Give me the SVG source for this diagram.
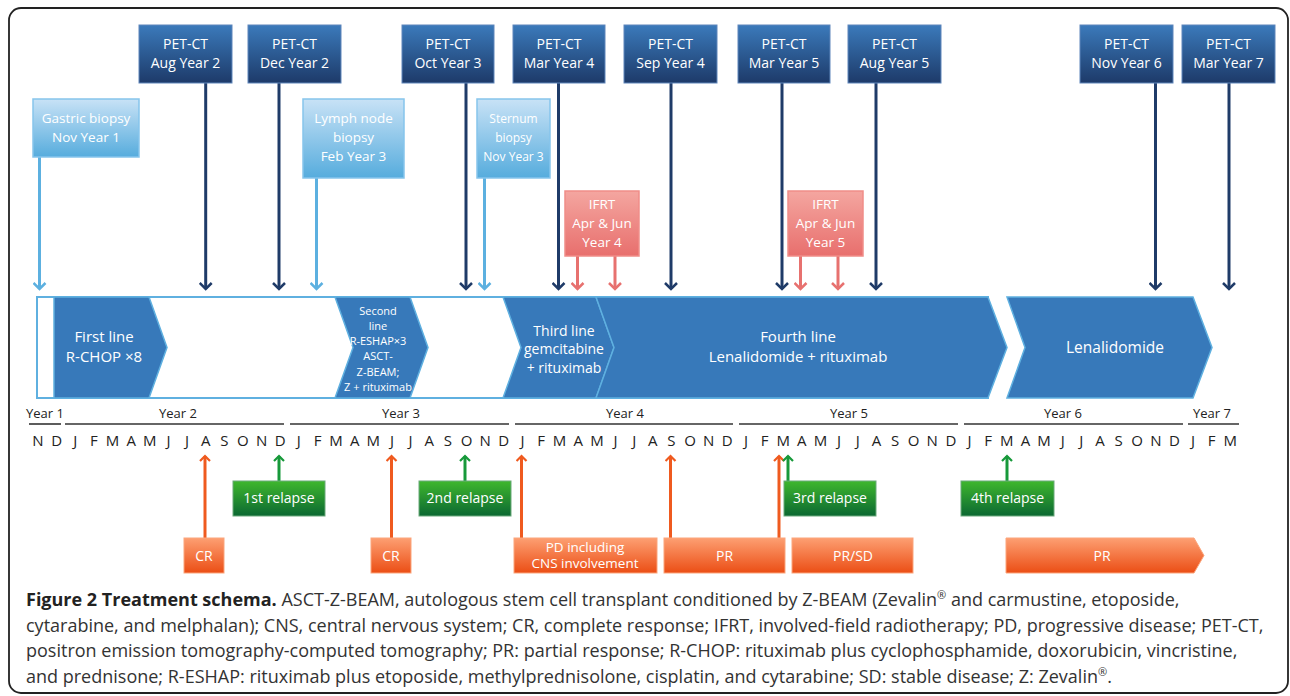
<svg xmlns="http://www.w3.org/2000/svg" width="1290" height="696" viewBox="0 0 1290 696">
<defs>
<linearGradient id="gDark" x1="0" y1="0" x2="0" y2="1"><stop offset="0" stop-color="#3b7abb"/><stop offset="1" stop-color="#1d3a69"/></linearGradient>
<linearGradient id="gLight" x1="0" y1="0" x2="0" y2="1"><stop offset="0" stop-color="#c8e2f6"/><stop offset="1" stop-color="#56acdd"/></linearGradient>
<linearGradient id="gPink" x1="0" y1="0" x2="0" y2="1"><stop offset="0" stop-color="#f4a6a0"/><stop offset="1" stop-color="#e86f6d"/></linearGradient>
<linearGradient id="gOrange" x1="0" y1="0" x2="0" y2="1"><stop offset="0" stop-color="#fd9f72"/><stop offset="1" stop-color="#eb4e15"/></linearGradient>
<linearGradient id="gGreen" x1="0" y1="0" x2="0" y2="1"><stop offset="0" stop-color="#3fb72d"/><stop offset="1" stop-color="#0b6832"/></linearGradient>
<marker id="mDark" viewBox="0 0 14 14" refX="7" refY="7" markerWidth="14" markerHeight="14" orient="auto" markerUnits="userSpaceOnUse"><path d="M1,1 L7,7 L1,13" fill="none" stroke="#1f3b68" stroke-width="2.5"/></marker>
<marker id="mLight" viewBox="0 0 14 14" refX="7" refY="7" markerWidth="14" markerHeight="14" orient="auto" markerUnits="userSpaceOnUse"><path d="M1,1 L7,7 L1,13" fill="none" stroke="#5cb0e0" stroke-width="2.5"/></marker>
<marker id="mPink" viewBox="0 0 14 14" refX="7" refY="7" markerWidth="14" markerHeight="14" orient="auto" markerUnits="userSpaceOnUse"><path d="M1,1 L7,7 L1,13" fill="none" stroke="#e7716f" stroke-width="2.5"/></marker>
<marker id="mOrange" viewBox="0 0 12 12" refX="7" refY="6" markerWidth="12" markerHeight="12" orient="auto" markerUnits="userSpaceOnUse"><path d="M2,1 L7,6 L2,11" fill="none" stroke="#ef5a1f" stroke-width="2.2"/></marker>
<marker id="mGreen" viewBox="0 0 12 12" refX="7" refY="6" markerWidth="12" markerHeight="12" orient="auto" markerUnits="userSpaceOnUse"><path d="M2,1 L7,6 L2,11" fill="none" stroke="#17993a" stroke-width="2.2"/></marker>
<style>
text{font-family:"Open Sans","Noto Sans","Liberation Sans",sans-serif;}
.w{fill:#ffffff;text-anchor:middle;}
.pet{fill:url(#gDark);stroke:#5f86bb;stroke-width:1;}
.bio{fill:url(#gLight);stroke:#86c5ec;stroke-width:1.5;}
.ifrt{fill:url(#gPink);stroke:#f08d88;stroke-width:1.5;}
.resp{fill:url(#gOrange);stroke:#fba57c;stroke-width:1;}
.rel{fill:url(#gGreen);stroke:#6aa97a;stroke-width:1;}
.chev{fill:#3779ba;stroke:#5fb0e0;stroke-width:1.5;}
.lnDark{stroke:#1f3b68;stroke-width:3;fill:none;marker-end:url(#mDark);}
.lnLight{stroke:#5cb0e0;stroke-width:3;fill:none;marker-end:url(#mLight);}
.lnPink{stroke:#e7716f;stroke-width:3;fill:none;marker-end:url(#mPink);}
.lnOrange{stroke:#ef5a1f;stroke-width:3;fill:none;marker-end:url(#mOrange);}
.lnGreen{stroke:#17993a;stroke-width:3;fill:none;marker-end:url(#mGreen);}
.mo{font-size:15px;fill:#222;text-anchor:middle;}
.yr{font-size:13px;fill:#222;text-anchor:middle;}
.yl{stroke:#333;stroke-width:1.6;}
.t14{font-size:14px;}
.cap{font-size:18px;fill:#333;}
.reg{font-size:11px;}
</style>
</defs>
<rect x="9" y="8" width="1279" height="685" rx="12" fill="#ffffff" stroke="#222" stroke-width="1.8"/>

<g id="connectors">
<line class="lnDark" x1="205.7" y1="83" x2="205.7" y2="289"/>
<line class="lnDark" x1="279" y1="83" x2="279" y2="289"/>
<line class="lnDark" x1="466" y1="83" x2="466" y2="289"/>
<line class="lnDark" x1="558.5" y1="83" x2="558.5" y2="289"/>
<line class="lnDark" x1="671" y1="83" x2="671" y2="289"/>
<line class="lnDark" x1="782" y1="83" x2="782" y2="289"/>
<line class="lnDark" x1="876" y1="83" x2="876" y2="289"/>
<line class="lnDark" x1="1155.5" y1="83" x2="1155.5" y2="289"/>
<line class="lnDark" x1="1229" y1="83" x2="1229" y2="289"/>
<line class="lnLight" x1="39.5" y1="157" x2="39.5" y2="289"/>
<line class="lnLight" x1="316.5" y1="178" x2="316.5" y2="289"/>
<line class="lnLight" x1="484.5" y1="178" x2="484.5" y2="289"/>
<line class="lnPink" x1="577.5" y1="256" x2="577.5" y2="289"/>
<line class="lnPink" x1="615" y1="256" x2="615" y2="289"/>
<line class="lnPink" x1="800.5" y1="256" x2="800.5" y2="289"/>
<line class="lnPink" x1="838" y1="256" x2="838" y2="289"/>
<line class="lnOrange" x1="205" y1="538" x2="205" y2="456"/>
<line class="lnOrange" x1="391.5" y1="538" x2="391.5" y2="456"/>
<line class="lnOrange" x1="521.5" y1="538" x2="521.5" y2="456"/>
<line class="lnOrange" x1="670.5" y1="538" x2="670.5" y2="456"/>
<line class="lnOrange" x1="779" y1="538" x2="779" y2="456"/>
<line class="lnGreen" x1="279" y1="481" x2="279" y2="456"/>
<line class="lnGreen" x1="465" y1="481" x2="465" y2="456"/>
<line class="lnGreen" x1="788" y1="481" x2="788" y2="456"/>
<line class="lnGreen" x1="1007" y1="481" x2="1007" y2="456"/>
</g>

<g id="pet-aug-y2"><rect class="pet" x="139" y="25" width="93" height="58"/><text class="w t14" x="185.5" y="49">PET-CT</text><text class="w t14" x="185.5" y="68">Aug Year 2</text></g>
<g id="pet-dec-y2"><rect class="pet" x="248" y="25" width="93" height="58"/><text class="w t14" x="294.5" y="49">PET-CT</text><text class="w t14" x="294.5" y="68">Dec Year 2</text></g>
<g id="pet-oct-y3"><rect class="pet" x="402" y="25" width="92" height="58"/><text class="w t14" x="448" y="49">PET-CT</text><text class="w t14" x="448" y="68">Oct Year 3</text></g>
<g id="pet-mar-y4"><rect class="pet" x="513" y="25" width="92" height="58"/><text class="w t14" x="559" y="49">PET-CT</text><text class="w t14" x="559" y="68">Mar Year 4</text></g>
<g id="pet-sep-y4"><rect class="pet" x="624" y="25" width="93" height="58"/><text class="w t14" x="670.5" y="49">PET-CT</text><text class="w t14" x="670.5" y="68">Sep Year 4</text></g>
<g id="pet-mar-y5"><rect class="pet" x="738" y="25" width="92" height="58"/><text class="w t14" x="784" y="49">PET-CT</text><text class="w t14" x="784" y="68">Mar Year 5</text></g>
<g id="pet-aug-y5"><rect class="pet" x="848" y="25" width="93" height="58"/><text class="w t14" x="894.5" y="49">PET-CT</text><text class="w t14" x="894.5" y="68">Aug Year 5</text></g>
<g id="pet-nov-y6"><rect class="pet" x="1080" y="25" width="93" height="58"/><text class="w t14" x="1126.5" y="49">PET-CT</text><text class="w t14" x="1126.5" y="68">Nov Year 6</text></g>
<g id="pet-mar-y7"><rect class="pet" x="1182" y="25" width="93" height="58"/><text class="w t14" x="1228.5" y="49">PET-CT</text><text class="w t14" x="1228.5" y="68">Mar Year 7</text></g>

<g id="gastric-biopsy"><rect class="bio" x="33" y="99" width="106" height="58"/><text class="w" font-size="13.5" x="86" y="123">Gastric biopsy</text><text class="w" font-size="13.5" x="86" y="142">Nov Year 1</text></g>
<g id="lymph-node-biopsy"><rect class="bio" x="303" y="99" width="101" height="79"/><text class="w" font-size="13.5" x="353.5" y="123">Lymph node</text><text class="w" font-size="13.5" x="353.5" y="142">biopsy</text><text class="w" font-size="13.5" x="353.5" y="161">Feb Year 3</text></g>
<g id="sternum-biopsy"><rect class="bio" x="477" y="99" width="73" height="79"/><text class="w" font-size="12" x="513.5" y="123">Sternum</text><text class="w" font-size="12" x="513.5" y="142">biopsy</text><text class="w" font-size="12" x="513.5" y="161">Nov Year 3</text></g>

<g id="ifrt-y4"><rect class="ifrt" x="565" y="191" width="74" height="65"/><text class="w" font-size="13.5" x="602" y="209">IFRT</text><text class="w" font-size="13.5" x="602" y="228">Apr &amp; Jun</text><text class="w" font-size="13.5" x="602" y="247">Year 4</text></g>
<g id="ifrt-y5"><rect class="ifrt" x="788" y="191" width="75" height="65"/><text class="w" font-size="13.5" x="825.5" y="209">IFRT</text><text class="w" font-size="13.5" x="825.5" y="228">Apr &amp; Jun</text><text class="w" font-size="13.5" x="825.5" y="247">Year 5</text></g>

<g id="treatment-band">
<rect x="37" y="297" width="951" height="101" fill="#ffffff" stroke="#5fb0e0" stroke-width="2"/>
<g id="first-line"><path class="chev" d="M54,297 L149,297 L167,347.5 L149,398 L54,398 Z"/><text class="w" font-size="15" x="104" y="342">First line</text><text class="w" font-size="15" x="104" y="362">R-CHOP ×8</text></g>
<g id="second-line"><path class="chev" d="M335,297 L410,297 L428,347.5 L410,398 L335,398 L353,347.5 Z"/>
<text class="w" font-size="11" x="378" y="315">Second</text><text class="w" font-size="11" x="378" y="330">line</text><text class="w" font-size="11" x="378" y="345">R-ESHAP×3</text><text class="w" font-size="11" x="378" y="360">ASCT-</text><text class="w" font-size="11" x="378" y="376">Z-BEAM;</text><text class="w" font-size="11" x="378" y="391">Z + rituximab</text></g>
<g id="third-line"><path class="chev" d="M503,297 L596,297 L614,347.5 L596,398 L503,398 L521,347.5 Z"/><text class="w" font-size="14" x="564" y="336">Third line</text><text class="w" font-size="14" x="564" y="354">gemcitabine</text><text class="w" font-size="14" x="564" y="373">+ rituximab</text></g>
<g id="fourth-line"><path class="chev" d="M596,297 L988,297 L1007,347.5 L988,398 L596,398 L614,347.5 Z"/><text class="w" font-size="15" x="798" y="342">Fourth line</text><text class="w" font-size="15" x="798" y="362">Lenalidomide + rituximab</text></g>
<g id="lenalidomide"><path class="chev" d="M1007,297 L1193,297 L1212,347.5 L1193,398 L1007,398 L1025,347.5 Z"/><text class="w" font-size="15.5" x="1115" y="353">Lenalidomide</text></g>
</g>

<g id="timeline">
<text class="yr" x="45" y="418">Year 1</text><line class="yl" x1="29" y1="424" x2="61" y2="424"/>
<text class="yr" x="178" y="418">Year 2</text><line class="yl" x1="65" y1="424" x2="284" y2="424"/>
<text class="yr" x="401" y="418">Year 3</text><line class="yl" x1="290" y1="424" x2="509" y2="424"/>
<text class="yr" x="625" y="418">Year 4</text><line class="yl" x1="515" y1="424" x2="733" y2="424"/>
<text class="yr" x="849" y="418">Year 5</text><line class="yl" x1="739" y1="424" x2="958" y2="424"/>
<text class="yr" x="1063" y="418">Year 6</text><line class="yl" x1="964" y1="424" x2="1183" y2="424"/>
<text class="yr" x="1212" y="418">Year 7</text><line class="yl" x1="1188" y1="424" x2="1239" y2="424"/>
<text class="mo" x="38" y="446">N</text><text class="mo" x="56.6" y="446">D</text>
<text class="mo" x="75.3" y="446">J</text><text class="mo" x="93.9" y="446">F</text><text class="mo" x="112.5" y="446">M</text><text class="mo" x="131.2" y="446">A</text><text class="mo" x="149.8" y="446">M</text><text class="mo" x="168.4" y="446">J</text><text class="mo" x="187" y="446">J</text><text class="mo" x="205.7" y="446">A</text><text class="mo" x="224.3" y="446">S</text><text class="mo" x="242.9" y="446">O</text><text class="mo" x="261.6" y="446">N</text><text class="mo" x="280.2" y="446">D</text>
<text class="mo" x="298.8" y="446">J</text><text class="mo" x="317.5" y="446">F</text><text class="mo" x="336.1" y="446">M</text><text class="mo" x="354.7" y="446">A</text><text class="mo" x="373.3" y="446">M</text><text class="mo" x="392" y="446">J</text><text class="mo" x="410.6" y="446">J</text><text class="mo" x="429.2" y="446">A</text><text class="mo" x="447.9" y="446">S</text><text class="mo" x="466.5" y="446">O</text><text class="mo" x="485.1" y="446">N</text><text class="mo" x="503.8" y="446">D</text>
<text class="mo" x="522.4" y="446">J</text><text class="mo" x="541" y="446">F</text><text class="mo" x="559.6" y="446">M</text><text class="mo" x="578.3" y="446">A</text><text class="mo" x="596.9" y="446">M</text><text class="mo" x="615.5" y="446">J</text><text class="mo" x="634.2" y="446">J</text><text class="mo" x="652.8" y="446">A</text><text class="mo" x="671.4" y="446">S</text><text class="mo" x="690.1" y="446">O</text><text class="mo" x="708.7" y="446">N</text><text class="mo" x="727.3" y="446">D</text>
<text class="mo" x="745.9" y="446">J</text><text class="mo" x="764.6" y="446">F</text><text class="mo" x="783.2" y="446">M</text><text class="mo" x="801.8" y="446">A</text><text class="mo" x="820.5" y="446">M</text><text class="mo" x="839.1" y="446">J</text><text class="mo" x="857.7" y="446">J</text><text class="mo" x="876.4" y="446">A</text><text class="mo" x="895" y="446">S</text><text class="mo" x="913.6" y="446">O</text><text class="mo" x="932.2" y="446">N</text><text class="mo" x="950.9" y="446">D</text>
<text class="mo" x="969.5" y="446">J</text><text class="mo" x="988.1" y="446">F</text><text class="mo" x="1006.8" y="446">M</text><text class="mo" x="1025.4" y="446">A</text><text class="mo" x="1044" y="446">M</text><text class="mo" x="1062.7" y="446">J</text><text class="mo" x="1081.3" y="446">J</text><text class="mo" x="1099.9" y="446">A</text><text class="mo" x="1118.5" y="446">S</text><text class="mo" x="1137.2" y="446">O</text><text class="mo" x="1155.8" y="446">N</text><text class="mo" x="1174.4" y="446">D</text>
<text class="mo" x="1193.1" y="446">J</text><text class="mo" x="1211.7" y="446">F</text><text class="mo" x="1230.3" y="446">M</text>
</g>

<g id="relapse-1"><rect class="rel" x="233" y="481" width="92" height="35"/><text class="w" font-size="14" x="279" y="503">1st relapse</text></g>
<g id="relapse-2"><rect class="rel" x="419" y="481" width="92" height="35"/><text class="w" font-size="14" x="465" y="503">2nd relapse</text></g>
<g id="relapse-3"><rect class="rel" x="784" y="481" width="92" height="35"/><text class="w" font-size="14" x="830" y="503">3rd relapse</text></g>
<g id="relapse-4"><rect class="rel" x="961" y="481" width="93" height="35"/><text class="w" font-size="14" x="1007.5" y="503">4th relapse</text></g>

<g id="cr-1"><rect class="resp" x="184" y="538" width="40" height="35"/><text class="w" font-size="14" x="204" y="561">CR</text></g>
<g id="cr-2"><rect class="resp" x="371" y="538" width="40" height="35"/><text class="w" font-size="14" x="391" y="561">CR</text></g>
<g id="pd"><rect class="resp" x="514" y="538" width="143" height="35"/><text class="w" font-size="13.5" x="585" y="552">PD including</text><text class="w" font-size="13.5" x="585" y="568">CNS involvement</text></g>
<g id="pr-1"><rect class="resp" x="664" y="538" width="121" height="35"/><text class="w" font-size="14" x="724.5" y="561">PR</text></g>
<g id="pr-sd"><rect class="resp" x="792" y="538" width="121" height="35"/><text class="w" font-size="14" x="853" y="561">PR/SD</text></g>
<g id="pr-2"><path class="resp" d="M1006,538 L1194,538 L1204,555.5 L1194,573 L1006,573 Z"/><text class="w" font-size="14" x="1102" y="561">PR</text></g>

<g id="caption">
<text class="cap" x="26" y="606"><tspan font-weight="bold" fill="#222">Figure 2 Treatment schema.</tspan> ASCT-Z-BEAM, autologous stem cell transplant conditioned by Z-BEAM (Zevalin<tspan class="reg" baseline-shift="super">®</tspan> and carmustine, etoposide,</text>
<text class="cap" x="26" y="632">cytarabine, and melphalan); CNS, central nervous system; CR, complete response; IFRT, involved-field radiotherapy; PD, progressive disease; PET-CT,</text>
<text class="cap" x="26" y="657">positron emission tomography-computed tomography; PR: partial response; R-CHOP: rituximab plus cyclophosphamide, doxorubicin, vincristine,</text>
<text class="cap" x="26" y="683">and prednisone; R-ESHAP: rituximab plus etoposide, methylprednisolone, cisplatin, and cytarabine; SD: stable disease; Z: Zevalin<tspan class="reg" baseline-shift="super">®</tspan>.</text>
</g>
</svg>
